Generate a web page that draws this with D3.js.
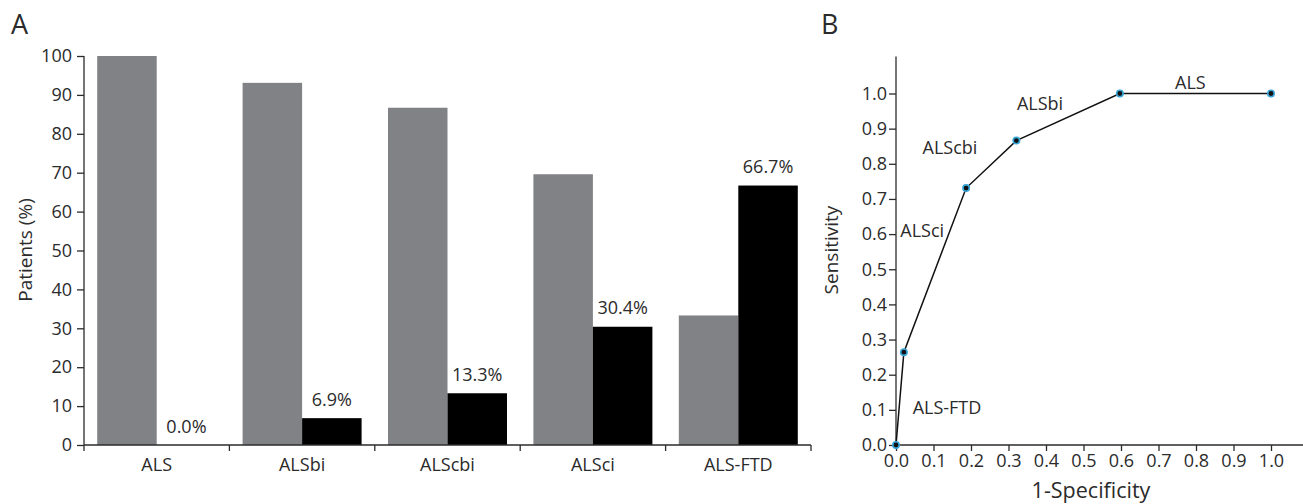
<!DOCTYPE html>
<html>
<head>
<meta charset="utf-8">
<script src="https://cdn.jsdelivr.net/npm/d3@7"></script>
<style>
  body { margin: 0; background: #fff; }
  svg text { font-family: "Open Sans", sans-serif; fill: #2b2b2b; }
  .axis path, .axis line { stroke: #2b2b2b; stroke-width: 1.3; }
</style>
</head>
<body>
<svg id="chart" width="1303" height="504"></svg>
<script>
// Panel A data
const groups = ["ALS", "ALSbi", "ALScbi", "ALSci", "ALS-FTD"];
const grayValues = [100, 93.1, 86.7, 69.6, 33.3];
const blackValues = [0, 6.9, 13.3, 30.4, 66.7];
const yTicksA = [0, 10, 20, 30, 40, 50, 60, 70, 80, 90, 100];

// Panel B data
const rocFpr = [0, 0.021, 0.187, 0.321, 0.597, 1.0];
const rocTpr = [0, 0.264, 0.731, 0.866, 1.0, 1.0];
const rocLabels = ["ALS-FTD", "ALSci", "ALScbi", "ALSbi", "ALS"];
const rocLabelX = [0.136, 0.07, 0.144, 0.384, 0.785];
const rocLabelY = [0.107, 0.61, 0.847, 0.97, 1.03];
const ticksB = [0, 0.1, 0.2, 0.3, 0.4, 0.5, 0.6, 0.7, 0.8, 0.9, 1.0];

const svg = d3.select("#chart");

// ---- Panel A ----
const xA = d3.scaleBand().domain(groups).range([84, 811]).paddingInner(0).paddingOuter(0);
const yA = d3.scaleLinear().domain([0, 100]).range([445, 56]);
const sub = d3.scaleBand().domain(["gray", "black"]).range([0, xA.bandwidth()]).paddingOuter(0.222).paddingInner(0);

svg.append("text").attr("x", 11).attr("y", 34).style("font-size", "27px").text("A");

const gA = svg.append("g");
gA.selectAll(".gbar")
  .data(groups)
  .enter().append("rect")
  .attr("class", "gbar")
  .attr("x", d => xA(d) + sub("gray"))
  .attr("width", sub.bandwidth())
  .attr("y", (d, i) => yA(grayValues[i]))
  .attr("height", (d, i) => yA(0) - yA(grayValues[i]))
  .attr("fill", "#808285");

gA.selectAll(".bbar")
  .data(groups)
  .enter().append("rect")
  .attr("class", "bbar")
  .attr("x", d => xA(d) + sub("black"))
  .attr("width", sub.bandwidth())
  .attr("y", (d, i) => yA(blackValues[i]))
  .attr("height", (d, i) => yA(0) - yA(blackValues[i]))
  .attr("fill", "#000");

gA.selectAll(".blabel")
  .data(groups)
  .enter().append("text")
  .attr("class", "blabel")
  .attr("x", d => xA(d) + sub("black") + sub.bandwidth() / 2)
  .attr("y", (d, i) => yA(blackValues[i]) - 12.5)
  .attr("text-anchor", "middle")
  .style("font-size", "18px")
  .text((d, i) => blackValues[i].toFixed(1) + "%");

const yAxisA = gA.append("g")
  .attr("class", "axis")
  .attr("transform", "translate(84,0)")
  .call(d3.axisLeft(yA).tickValues(yTicksA).tickSize(7).tickPadding(5));
yAxisA.select(".domain").attr("d", `M0,${yA(100)}V${yA(0)}`);
yAxisA.selectAll("text").style("font-size", "18px").attr("fill", "#2b2b2b");

const xAxisA = gA.append("g")
  .attr("class", "axis")
  .attr("transform", "translate(0,445)");
xAxisA.append("line").attr("x1", 84).attr("x2", 811).attr("y1", 0).attr("y2", 0);
xAxisA.selectAll(".sep")
  .data(groups.concat(["end"]))
  .enter().append("line")
  .attr("class", "sep")
  .attr("x1", d => d === "end" ? 811 : xA(d))
  .attr("x2", d => d === "end" ? 811 : xA(d))
  .attr("y1", 0).attr("y2", 6);
xAxisA.selectAll(".cat")
  .data(groups)
  .enter().append("text")
  .attr("class", "cat")
  .attr("x", d => xA(d) + xA.bandwidth() / 2)
  .attr("y", 26)
  .attr("text-anchor", "middle")
  .style("font-size", "18px")
  .text(d => d);

svg.append("text")
  .attr("transform", "translate(32,250) rotate(-90)")
  .attr("text-anchor", "middle")
  .style("font-size", "19px")
  .text("Patients (%)");

// ---- Panel B ----
const xB = d3.scaleLinear().domain([0, 1]).range([896, 1271]);
const yB = d3.scaleLinear().domain([0, 1]).range([445, 93.5]);

svg.append("text").attr("x", 821).attr("y", 34).style("font-size", "27px").text("B");

const gB = svg.append("g");
const yAxisB = gB.append("g")
  .attr("class", "axis")
  .attr("transform", "translate(896,0)")
  .call(d3.axisLeft(yB).tickValues(ticksB).tickFormat(d3.format(".1f")).tickSize(7).tickPadding(2));
yAxisB.select(".domain").attr("d", `M0,${yB(1.105)}V${yB(0)}`);
yAxisB.selectAll("text").style("font-size", "18px").attr("fill", "#2b2b2b");

const xAxisB = gB.append("g")
  .attr("class", "axis")
  .attr("transform", "translate(0,445)")
  .call(d3.axisBottom(xB).tickValues(ticksB).tickFormat(d3.format(".1f")).tickSize(6).tickPadding(3));
xAxisB.select(".domain").attr("d", `M${xB(0)},0H${xB(1.09)}`);
xAxisB.selectAll("text").style("font-size", "18px").attr("fill", "#2b2b2b");

svg.append("text")
  .attr("x", xB(0.52)).attr("y", 498)
  .attr("text-anchor", "middle")
  .style("font-size", "21.5px")
  .text("1-Specificity");

svg.append("text")
  .attr("transform", "translate(838,250) rotate(-90)")
  .attr("text-anchor", "middle")
  .style("font-size", "19px")
  .text("Sensitivity");

const rocPts = rocFpr.map((f, i) => [f, rocTpr[i]]);
gB.append("path")
  .datum(rocPts)
  .attr("fill", "none")
  .attr("stroke", "#111")
  .attr("stroke-width", 1.5)
  .attr("d", d3.line().x(d => xB(d[0])).y(d => yB(d[1])));

gB.selectAll(".pt")
  .data(rocPts)
  .enter().append("circle")
  .attr("class", "pt")
  .attr("cx", d => xB(d[0]))
  .attr("cy", d => yB(d[1]))
  .attr("r", 3.2)
  .attr("fill", "#111")
  .attr("stroke", "#3aa6d8")
  .attr("stroke-width", 1.6);

gB.selectAll(".rl")
  .data(rocLabels)
  .enter().append("text")
  .attr("class", "rl")
  .attr("x", (d, i) => xB(rocLabelX[i]))
  .attr("y", (d, i) => yB(rocLabelY[i]))
  .attr("dy", "0.35em")
  .attr("text-anchor", "middle")
  .style("font-size", "18px")
  .text(d => d);
</script>
</body>
</html>
